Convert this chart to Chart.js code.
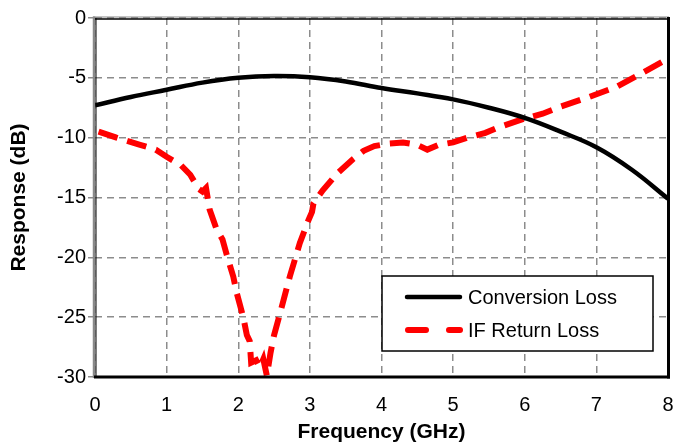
<!DOCTYPE html>
<html>
<head>
<meta charset="utf-8">
<style>
html,body{margin:0;padding:0;background:#fff;}
canvas{display:block;}
</style>
<script src="https://cdn.jsdelivr.net/npm/chart.js@4/dist/chart.umd.min.js"></script>
</head>
<body>
<canvas id="c" width="674" height="443"></canvas>
<script>
const xTicks = [0,1,2,3,4,5,6,7,8];
const yTicks = [0,-5,-10,-15,-20,-25,-30];

const convFreq = [0,0.5,1,1.5,2,2.5,3,3.5,4,4.5,5,5.5,6,6.5,7,7.5,8];
const convLoss = [-7.3,-6.6,-6.0,-5.4,-5.0,-4.85,-4.95,-5.3,-5.85,-6.3,-6.8,-7.5,-8.35,-9.5,-10.8,-12.7,-15.1];

const ifFreq = [0.05,0.3,0.63,0.85,1.0,1.2,1.33,1.45,1.5,1.55,1.6,1.7,1.78,1.84,1.93,1.98,2.07,2.12,2.16,2.18,2.25,2.3,2.35,2.4,2.45,2.5,2.56,2.72,2.86,2.98,3.03,3.05,3.18,3.38,3.6,3.75,3.9,4.1,4.3,4.5,4.64,4.8,5.0,5.2,5.45,5.65,6.0,6.25,6.5,6.9,7.3,7.7,8.0];
const ifLoss = [-9.5,-10.0,-10.6,-11.0,-11.6,-12.3,-13.1,-14.3,-14.5,-14.2,-16.0,-17.7,-18.5,-19.8,-21.6,-23.0,-25.0,-26.5,-27.0,-28.8,-28.6,-29.2,-28.5,-29.9,-28.0,-26.5,-25.2,-21.6,-18.8,-16.9,-16.2,-15.5,-14.4,-13.0,-11.8,-11.1,-10.7,-10.5,-10.4,-10.6,-11.0,-10.6,-10.4,-10.0,-9.6,-9.1,-8.4,-8.0,-7.4,-6.6,-5.7,-4.4,-3.4];

const seriesLabels = ['Conversion Loss','IF Return Loss'];
const FONT = "Arial, 'Liberation Sans', sans-serif";

const framePlugin = {
  id: 'frame',
  afterDraw(chart) {
    const {ctx, chartArea: a} = chart;
    ctx.save();
    ctx.setLineDash([]);
    ctx.strokeStyle = '#8a8a8a';
    ctx.lineWidth = 2.5;
    ctx.beginPath(); ctx.moveTo(a.left - 1, a.top - 1.5); ctx.lineTo(a.left - 1, a.bottom + 1); ctx.stroke();
    ctx.lineWidth = 1.2;
    ctx.beginPath(); ctx.moveTo(a.left - 2, a.top - 1); ctx.lineTo(a.right + 1, a.top - 1); ctx.stroke();
    ctx.strokeStyle = '#000';
    ctx.lineWidth = 1.5;
    ctx.beginPath(); ctx.moveTo(a.left, a.top + 1); ctx.lineTo(a.right, a.top + 1); ctx.stroke();
    ctx.lineWidth = 1;
    ctx.beginPath(); ctx.moveTo(a.left + 1, a.top); ctx.lineTo(a.left + 1, a.bottom); ctx.stroke();
    ctx.lineWidth = 3;
    ctx.beginPath(); ctx.moveTo(a.right + 0.5, a.top - 1); ctx.lineTo(a.right + 0.5, a.bottom + 1.5); ctx.stroke();
    ctx.beginPath(); ctx.moveTo(a.left - 1, a.bottom); ctx.lineTo(a.right + 2, a.bottom); ctx.stroke();
    ctx.restore();
  }
};

const legendPlugin = {
  id: 'boxLegend',
  afterDraw(chart) {
    const {ctx} = chart;
    const ds = chart.data.datasets;
    const bx = 382, by = 276, bw = 271, bh = 75;
    ctx.save();
    ctx.fillStyle = '#fff';
    ctx.fillRect(bx, by, bw, bh);
    ctx.strokeStyle = '#000';
    ctx.lineWidth = 1.5;
    ctx.setLineDash([]);
    ctx.strokeRect(bx, by, bw, bh);
    const rows = [297, 330];
    ds.forEach((d, i) => {
      const y = rows[i];
      ctx.strokeStyle = d.borderColor;
      ctx.lineWidth = d.borderWidth;
      ctx.lineCap = 'round';
      if (d.borderDash && d.borderDash.length) {
        ctx.beginPath(); ctx.moveTo(408, y); ctx.lineTo(426, y); ctx.stroke();
        ctx.beginPath(); ctx.moveTo(449, y); ctx.lineTo(460, y); ctx.stroke();
      } else {
        ctx.beginPath(); ctx.moveTo(407, y); ctx.lineTo(460, y); ctx.stroke();
      }
      ctx.fillStyle = '#000';
      ctx.font = '20px ' + FONT;
      ctx.textBaseline = 'middle';
      ctx.textAlign = 'left';
      ctx.fillText(d.label, 468, y + 1);
    });
    ctx.restore();
  }
};

new Chart(document.getElementById('c'), {
  type: 'line',
  data: {
    datasets: [
      {
        label: seriesLabels[0],
        data: convFreq.map((x, i) => ({x, y: convLoss[i]})),
        borderColor: '#000',
        borderWidth: 4.5,
        pointRadius: 0,
        tension: 0.4,
        fill: false
      },
      {
        label: seriesLabels[1],
        data: ifFreq.map((x, i) => ({x, y: ifLoss[i]})),
        borderColor: '#ff0000',
        borderWidth: 6,
        borderDash: [20, 10],
        borderJoinStyle: 'miter',
        pointRadius: 0,
        tension: 0,
        fill: false
      }
    ]
  },
  options: {
    responsive: false,
    animation: false,
    events: [],
    layout: {padding: {top: 18, right: 6, left: 0, bottom: 0}},
    plugins: {legend: {display: false}, tooltip: {enabled: false}},
    scales: {
      x: {
        type: 'linear',
        min: 0, max: 8,
        afterFit(s) { s.height = 66; s.paddingLeft = 0; s.paddingRight = 0; },
        afterBuildTicks(s) { s.ticks = xTicks.map(v => ({value: v})); },
        ticks: {font: {family: FONT, size: 20}, color: '#000', padding: 16, maxRotation: 0},
        grid: {color: '#8c8c8c', lineWidth: 1.5, drawTicks: false},
        border: {display: false, dash: [7, 5]},
        title: {display: true, text: 'Frequency (GHz)', font: {family: FONT, size: 21, weight: 'bold', lineHeight: 1}, color: '#000', padding: {top: 0, bottom: 0}}
      },
      y: {
        type: 'linear',
        min: -30, max: 0,
        afterFit(s) { s.width = 95; s.paddingTop = 0; s.paddingBottom = 0; },
        afterBuildTicks(s) { s.ticks = yTicks.map(v => ({value: v})); },
        ticks: {font: {family: FONT, size: 20}, color: '#000', padding: 2},
        grid: {color: '#8c8c8c', lineWidth: 1.5, drawTicks: true, tickLength: 7, tickColor: '#8c8c8c', tickBorderDash: [], tickWidth: 1.5},
        border: {display: false, dash: [7, 5]},
        title: {display: true, text: 'Response (dB)', font: {family: FONT, size: 21, weight: 'bold', lineHeight: 1.2}, color: '#000', padding: {top: 7, bottom: 0}}
      }
    }
  },
  plugins: [framePlugin, legendPlugin]
});
</script>
</body>
</html>
